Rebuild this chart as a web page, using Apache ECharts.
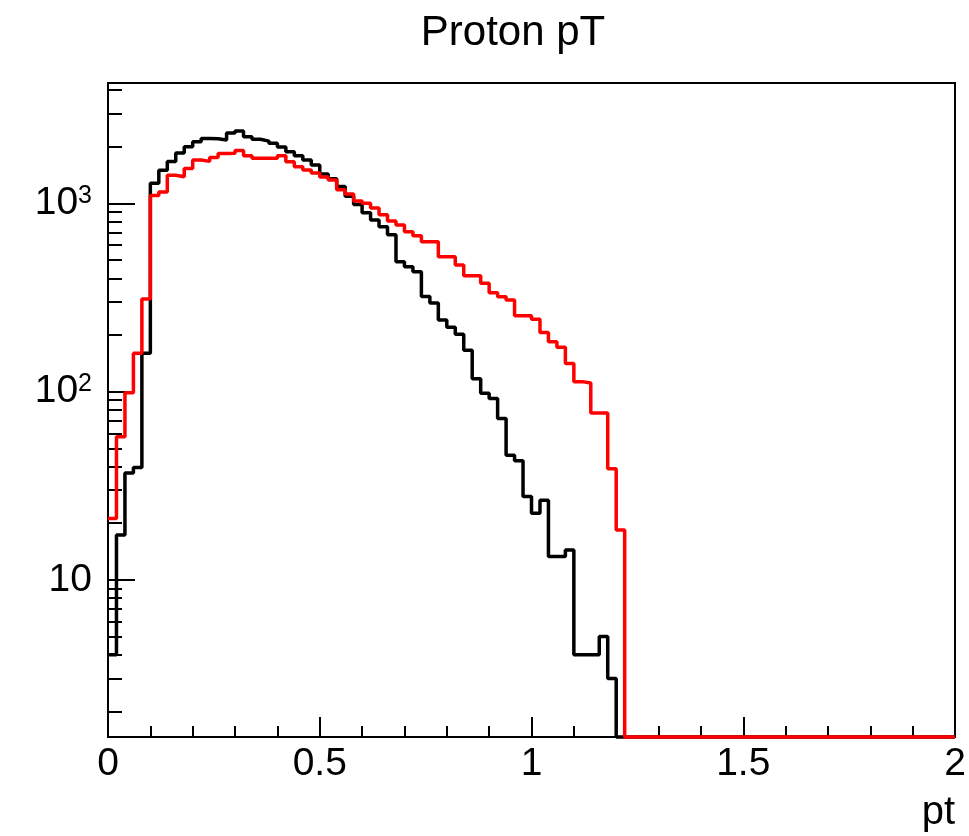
<!DOCTYPE html>
<html>
<head>
<meta charset="utf-8">
<script src="https://cdn.jsdelivr.net/npm/echarts@6/dist/echarts.min.js"></script>
<style>
html,body{margin:0;padding:0;background:#ffffff;}
#chart{width:969px;height:836px;}
</style>
</head>
<body>
<div id="chart"></div>
<script>
// ---- data ----
const chartTitle = 'Proton pT';
const xAxisTitle = 'pt';
const binWidth = 0.02;
const xMin = 0;
const xMax = 2;
const yMin = 1.465;
const yMax = 4355;
const xTickInterval = 0.5;
const yMajorTicks = [10, 100, 1000];
const yMajorBase = ['10', '10', '10'];
const yMajorExponent = ['', '2', '3'];
const yMinorTicks = [2, 3, 4, 5, 6, 7, 8, 9,
  20, 30, 40, 50, 60, 70, 80, 90,
  200, 300, 400, 500, 600, 700, 800, 900,
  2000, 3000, 4000];

const blackCounts = [
  4, 17.3, 37, 39.5, 160, 1280, 1500, 1670, 1850, 2000,
  2120, 2210, 2200, 2170, 2360, 2420, 2260, 2190, 2140, 2085,
  1990, 1880, 1790, 1700, 1600, 1430, 1350, 1230, 1090, 985,
  890, 815, 750, 680, 490, 460, 433, 320, 296, 240,
  220, 202, 166, 117, 98, 92, 72, 46, 43, 27.7,
  22.6, 26.5, 13.3, 13.3, 14.4, 4, 4, 4, 5, 3,
  0, 0, 0, 0, 0, 0, 0, 0, 0, 0,
  0, 0, 0, 0, 0, 0, 0, 0, 0, 0,
  0, 0, 0, 0, 0, 0, 0, 0, 0, 0,
  0, 0, 0, 0, 0, 0, 0, 0, 0, 0
];

const redCounts = [
  21.2, 57.6, 98.6, 160, 310, 1100, 1150, 1410, 1385, 1530,
  1700, 1670, 1750, 1840, 1845, 1910, 1790, 1735, 1735, 1735,
  1790, 1664, 1563, 1502, 1450, 1380, 1330, 1180, 1120, 1030,
  1000, 945, 870, 805, 767, 707, 672, 626, 626, 520,
  520, 470, 412, 412, 376, 335, 319, 307, 253, 253,
  242, 206, 184, 172, 141, 113, 111, 77, 77, 39,
  18.4, 0, 0, 0, 0, 0, 0, 0, 0, 0,
  0, 0, 0, 0, 0, 0, 0, 0, 0, 0,
  0, 0, 0, 0, 0, 0, 0, 0, 0, 0,
  0, 0, 0, 0, 0, 0, 0, 0, 0, 0
];

// ---- build ----
const FONT = "'Liberation Sans', Arial, Helvetica, sans-serif";

// ROOT draws empty bins on a log axis at the bottom of the frame
function stepData(counts) {
  const out = [];
  for (let i = 0; i < counts.length; i++) {
    out.push([xMin + i * binWidth, counts[i] > 0 ? counts[i] : yMin]);
  }
  const last = counts[counts.length - 1];
  out.push([xMax, last > 0 ? last : yMin]);
  return out;
}

function majorLabel(v) {
  for (let i = 0; i < yMajorTicks.length; i++) {
    if (Math.abs(Math.log10(v) - Math.log10(yMajorTicks[i])) < 1e-6) {
      let s = '{b|' + yMajorBase[i] + '}';
      if (yMajorExponent[i]) s += '{s|' + yMajorExponent[i] + '}';
      return s;
    }
  }
  return '';
}

const chart = echarts.init(document.getElementById('chart'), null, {renderer: 'canvas'});

const option = {
  animation: false,
  backgroundColor: '#ffffff',
  grid: {
    left: 108, right: 14, top: 83, bottom: 99,
    containLabel: false,
    outerBoundsMode: 'none',
    show: true,
    borderColor: '#000000',
    borderWidth: 2,
    backgroundColor: 'transparent'
  },
  xAxis: {
    type: 'value',
    min: xMin,
    max: xMax,
    interval: xTickInterval,
    axisLine: {show: true, onZero: false, lineStyle: {color: '#000', width: 2}},
    axisTick: {show: true, inside: true, length: 20, lineStyle: {color: '#000', width: 2}},
    minorTick: {show: true, splitNumber: 5, length: 11, lineStyle: {color: '#000', width: 2}},
    splitLine: {show: false},
    minorSplitLine: {show: false},
    axisLabel: {
      show: true, margin: 8, color: '#000', fontSize: 39, fontFamily: FONT,
      formatter: function (v) { return String(Math.round(v * 10) / 10); }
    }
  },
  yAxis: [
    {
      type: 'log',
      logBase: 10,
      min: yMin,
      max: yMax,
      position: 'left',
      axisLine: {show: true, onZero: false, lineStyle: {color: '#000', width: 2}},
      axisTick: {show: true, inside: true, length: 27, lineStyle: {color: '#000', width: 2}},
      splitLine: {show: false},
      minorTick: {show: false},
      axisLabel: {
        show: true, margin: 16, color: '#000', fontFamily: FONT,
        showMinLabel: false, showMaxLabel: false,
        formatter: majorLabel,
        rich: {
          b: {fontSize: 39, fontFamily: FONT, color: '#000', lineHeight: 40, verticalAlign: 'middle'},
          s: {fontSize: 25, fontFamily: FONT, color: '#000', lineHeight: 25, verticalAlign: 'top'}
        }
      }
    },
    {
      // minor tick marks only, placed on the same log10 scale
      type: 'value',
      min: Math.log10(yMin),
      max: Math.log10(yMax),
      position: 'left',
      offset: 0,
      axisLine: {show: false},
      axisTick: {show: true, inside: true, length: 14, customValues: yMinorTicks.map(Math.log10),
        lineStyle: {color: '#000', width: 2}},
      axisLabel: {show: false, customValues: yMinorTicks.map(Math.log10)},
      splitLine: {show: false}
    }
  ],
  graphic: [
    {
      type: 'text', x: 513, y: 12, z: 10,
      style: {text: chartTitle, fill: '#000', font: '42px ' + FONT, textAlign: 'center', textVerticalAlign: 'top'}
    },
    {
      type: 'text', x: 955, y: 793, z: 10,
      style: {text: xAxisTitle, fill: '#000', font: '40px ' + FONT, textAlign: 'right', textVerticalAlign: 'top'}
    }
  ],
  series: [
    {
      name: 'black',
      type: 'line',
      step: 'end',
      yAxisIndex: 0,
      data: stepData(blackCounts),
      symbol: 'none',
      showSymbol: false,
      clip: false,
      lineStyle: {color: '#000000', width: 3.5},
      z: 3
    },
    {
      name: 'red',
      type: 'line',
      step: 'end',
      yAxisIndex: 0,
      data: stepData(redCounts),
      symbol: 'none',
      showSymbol: false,
      clip: false,
      lineStyle: {color: '#ff0000', width: 3.5},
      z: 4
    }
  ]
};

chart.setOption(option);
</script>
</body>
</html>
